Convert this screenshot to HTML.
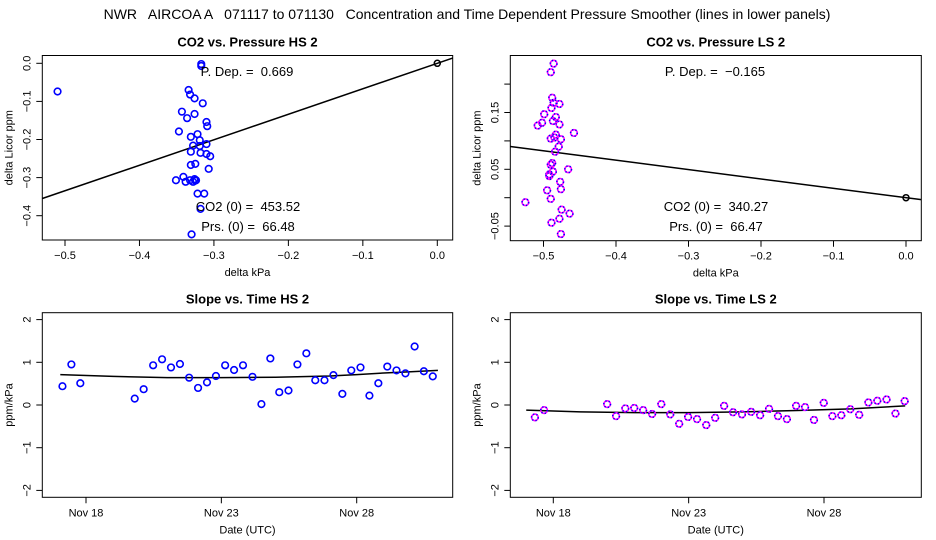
<!DOCTYPE html>
<html><head><meta charset="utf-8"><style>
html,body{margin:0;padding:0;background:#fff;}
svg{display:block;font-family:"Liberation Sans",sans-serif;}
svg text{white-space:pre;}
</style></head><body>
<svg id="chart" width="936" height="540" viewBox="0 0 936 540" xmlns="http://www.w3.org/2000/svg">
<text x="467" y="19" text-anchor="middle" font-size="14" style="white-space:pre">NWR   AIRCOA A   071117 to 071130   Concentration and Time Dependent Pressure Smoother (lines in lower panels)</text>
</svg>
<script>
// ---- data ----
const hsX = [-0.317,-0.317,-0.510,-0.334,-0.332,-0.326,-0.315,-0.343,-0.326,-0.336,-0.310,-0.309,-0.347,-0.322,-0.331,-0.319,-0.310,-0.328,-0.319,-0.331,-0.318,-0.310,-0.305,-0.325,-0.331,-0.307,-0.341,-0.351,-0.338,-0.332,-0.326,-0.325,-0.328,-0.324,-0.322,-0.313,-0.318,-0.330];
const hsY = [-0.002,-0.007,-0.074,-0.070,-0.082,-0.092,-0.105,-0.127,-0.133,-0.144,-0.154,-0.165,-0.179,-0.186,-0.193,-0.202,-0.212,-0.216,-0.217,-0.232,-0.235,-0.238,-0.244,-0.264,-0.267,-0.277,-0.298,-0.307,-0.311,-0.307,-0.304,-0.308,-0.311,-0.307,-0.342,-0.342,-0.382,-0.449];
const hsSlope = 0.669;
const lsX = [-0.486,-0.490,-0.488,-0.486,-0.478,-0.489,-0.499,-0.502,-0.508,-0.483,-0.487,-0.478,-0.458,-0.483,-0.485,-0.490,-0.476,-0.479,-0.484,-0.488,-0.490,-0.466,-0.487,-0.492,-0.492,-0.477,-0.476,-0.495,-0.490,-0.525,-0.475,-0.464,-0.478,-0.489,-0.476];
const lsY = [0.236,0.221,0.176,0.167,0.165,0.158,0.147,0.132,0.127,0.142,0.135,0.129,0.114,0.111,0.106,0.104,0.103,0.090,0.081,0.061,0.058,0.050,0.046,0.041,0.038,0.028,0.015,0.013,-0.002,-0.008,-0.021,-0.028,-0.037,-0.044,-0.064];
const lsSlope = -0.165;
// days since Nov 18 00:00
const hsDay = [-0.87,-0.54,-0.21,1.80,2.13,2.48,2.81,3.14,3.47,3.81,4.14,4.47,4.80,5.14,5.47,5.80,6.15,6.48,6.81,7.14,7.48,7.81,8.14,8.47,8.81,9.14,9.47,9.80,10.14,10.47,10.80,11.13,11.47,11.80,12.14,12.48,12.81];
const hsSlopeT = [0.44,0.95,0.51,0.15,0.37,0.93,1.07,0.88,0.96,0.64,0.40,0.53,0.68,0.93,0.82,0.93,0.66,0.02,1.09,0.30,0.34,0.95,1.21,0.58,0.58,0.70,0.26,0.81,0.88,0.22,0.51,0.90,0.81,0.74,1.37,0.79,0.67];
const hsSmDay = [-0.95,1,3,5,7,9,10,11,12,13];
const hsSmVal = [0.71,0.67,0.64,0.64,0.65,0.68,0.71,0.75,0.78,0.81];
const lsDay = [-0.68,-0.34,1.99,2.32,2.66,2.99,3.32,3.65,3.99,4.32,4.65,4.98,5.31,5.65,5.98,6.31,6.64,6.97,7.31,7.64,7.97,8.30,8.63,8.97,9.30,9.63,9.99,10.31,10.64,10.97,11.30,11.64,11.97,12.31,12.64,12.98];
const lsSlopeT = [-0.29,-0.12,0.02,-0.26,-0.08,-0.07,-0.12,-0.21,0.02,-0.22,-0.44,-0.28,-0.33,-0.47,-0.30,-0.02,-0.17,-0.22,-0.16,-0.24,-0.09,-0.26,-0.33,-0.02,-0.05,-0.35,0.05,-0.26,-0.24,-0.10,-0.23,0.06,0.10,0.13,-0.20,0.09];
const lsSmDay = [-1.0,1,3,5,7,9,11,13];
const lsSmVal = [-0.12,-0.16,-0.18,-0.18,-0.16,-0.13,-0.09,-0.02];
const topXTicks = [-0.5,-0.4,-0.3,-0.2,-0.1,0.0];
const topXLabels = ["\u22120.5","\u22120.4","\u22120.3","\u22120.2","\u22120.1","0.0"];
const hsYTicks = [0,-0.1,-0.2,-0.3,-0.4];
const hsYLabels = ["0.0","\u22120.1","\u22120.2","\u22120.3","\u22120.4"];
const lsYTicks = [0.2,0.15,0.1,0.05,0,-0.05];
const lsYLabels = ["","0.15","","0.05","","\u22120.05"];
const tYTicks = [2,1,0,-1,-2];
const tYLabels = ["2","1","0","\u22121","\u22122"];
const tXTicks = [0,5,10];
const tXLabels = ["Nov 18","Nov 23","Nov 28"];

const NS="http://www.w3.org/2000/svg";
const svg=document.getElementById('chart');
function mk(tag,attrs,parent){const e=document.createElementNS(NS,tag);for(const k in attrs)e.setAttribute(k,attrs[k]);(parent||svg).appendChild(e);return e;}
function txt(s,attrs,parent){const e=mk('text',attrs,parent);e.textContent=s;return e;}

function panel(o){
  const g=mk('g',{});
  
  
  const sx=v=>o.x0+v*o.kx, sy=v=>o.y0-v*o.ky;
  const box=mk('rect',{x:o.L,y:o.T,width:o.R-o.L,height:o.B-o.T,fill:'none',stroke:'#000','stroke-width':1},g);
  
  
  const t=txt(o.title,{x:(o.L+o.R)/2,y:o.T-9,'text-anchor':'middle','font-size':13,'font-weight':'bold'},g);
  
  
  o.xt.forEach((v,i)=>{const X=sx(v);
    mk('line',{x1:X,x2:X,y1:o.B,y2:o.B+6,stroke:'#000'},g);
    const l=txt(o.xl[i],{x:X,y:o.B+19,'text-anchor':'middle','font-size':11},g);
    
    
  });
  o.yt.forEach((v,i)=>{const Y=sy(v);
    mk('line',{x1:o.L-6,x2:o.L,y1:Y,y2:Y,stroke:'#000'},g);
    if(o.yl[i]){const l=txt(o.yl[i],{x:o.L-12,y:Y,'text-anchor':'middle','font-size':11,transform:`rotate(-90 ${o.L-12} ${Y})`},g);
    
    }
  });
  const xa=txt(o.xlab,{x:(o.L+o.R)/2,y:o.B+36,'text-anchor':'middle','font-size':11},g);
  
  
  const yx=o.L-30, yy=(o.T+o.B)/2;
  const ya=txt(o.ylab,{x:yx,y:yy,'text-anchor':'middle','font-size':11,transform:`rotate(-90 ${yx} ${yy})`},g);
  
  
  const cid='c'+o.name;
  const cp=mk('clipPath',{id:cid},g); mk('rect',{x:o.L,y:o.T,width:o.R-o.L,height:o.B-o.T},cp);
  const inner=mk('g',{'clip-path':`url(#${cid})`},g);
  if(o.slope!==undefined){
    const xa0=(o.L-o.x0)/o.kx, xa1=(o.R-o.x0)/o.kx;
    const ln=mk('line',{x1:sx(xa0),y1:sy(xa0*o.slope),x2:sx(xa1),y2:sy(xa1*o.slope),stroke:'#000','stroke-width':1.5},inner);
    
    
    const rp=mk('circle',{cx:sx(0),cy:sy(0),r:3,fill:'none',stroke:'#000','stroke-width':1.5},inner);
    
    
  }
  if(o.smX){
    const pts=o.smX.map((d,i)=>sx(d)+','+sy(o.smY[i])).join(' ');
    const pl=mk('polyline',{points:pts,fill:'none',stroke:'#000','stroke-width':1.5},inner);
    
    
  }
  o.px.forEach((v,i)=>{
    const c=mk('circle',{cx:sx(v),cy:sy(o.py[i]),r:3.3,fill:'none',stroke:o.col,'stroke-width':1.6},inner);
    
    
    if(o.col2){mk('circle',{cx:sx(v),cy:sy(o.py[i]),r:3.3,fill:'none',stroke:o.col2,'stroke-width':1.6,'stroke-dasharray':'1.2 2.2'},inner);}
  });
  (o.notes||[]).forEach(n=>{const e=txt(n[0],{x:n[1],y:n[2],'text-anchor':'middle','font-size':13,style:'white-space:pre'},g);
    
    });
}

panel({name:'hs-pressure-panel',title:'CO2 vs. Pressure HS 2',L:42.3,R:452.7,T:55.5,B:240,x0:437.3,kx:744.6,y0:63.3,ky:381,
  xt:topXTicks,xl:topXLabels,yt:hsYTicks,yl:hsYLabels,xlab:'delta kPa',ylab:'delta Licor ppm',
  slope:hsSlope,px:hsX,py:hsY,col:'#0000ff',
  notes:[['P. Dep. =  0.669',247,76],['CO2 (0) =  453.52',248,211],['Prs. (0) =  66.48',248,231]]});
panel({name:'ls-pressure-panel',title:'CO2 vs. Pressure LS 2',L:510.3,R:921.3,T:55.5,B:240.7,x0:906,kx:725,y0:197.7,ky:568,
  xt:topXTicks,xl:topXLabels,yt:lsYTicks,yl:lsYLabels,xlab:'delta kPa',ylab:'delta Licor ppm',
  slope:lsSlope,px:lsX,py:lsY,col:'#ff00ff',col2:'#0000ff',
  notes:[['P. Dep. =  \u22120.165',715,76],['CO2 (0) =  340.27',716,211],['Prs. (0) =  66.47',716,231]]});
panel({name:'hs-time-panel',title:'Slope vs. Time HS 2',L:42.3,R:452.7,T:312.7,B:497.3,x0:86,kx:27.07,y0:405,ky:42.7,
  xt:tXTicks,xl:tXLabels,yt:tYTicks,yl:tYLabels,xlab:'Date (UTC)',ylab:'ppm/kPa',
  smX:hsSmDay,smY:hsSmVal,px:hsDay,py:hsSlopeT,col:'#0000ff'});
panel({name:'ls-time-panel',title:'Slope vs. Time LS 2',L:510.3,R:921.3,T:312.7,B:497.3,x0:553.3,kx:27.07,y0:405,ky:42.7,
  xt:tXTicks,xl:tXLabels,yt:tYTicks,yl:tYLabels,xlab:'Date (UTC)',ylab:'ppm/kPa',
  smX:lsSmDay,smY:lsSmVal,px:lsDay,py:lsSlopeT,col:'#ff00ff',col2:'#0000ff'});
</script>
</body></html>
